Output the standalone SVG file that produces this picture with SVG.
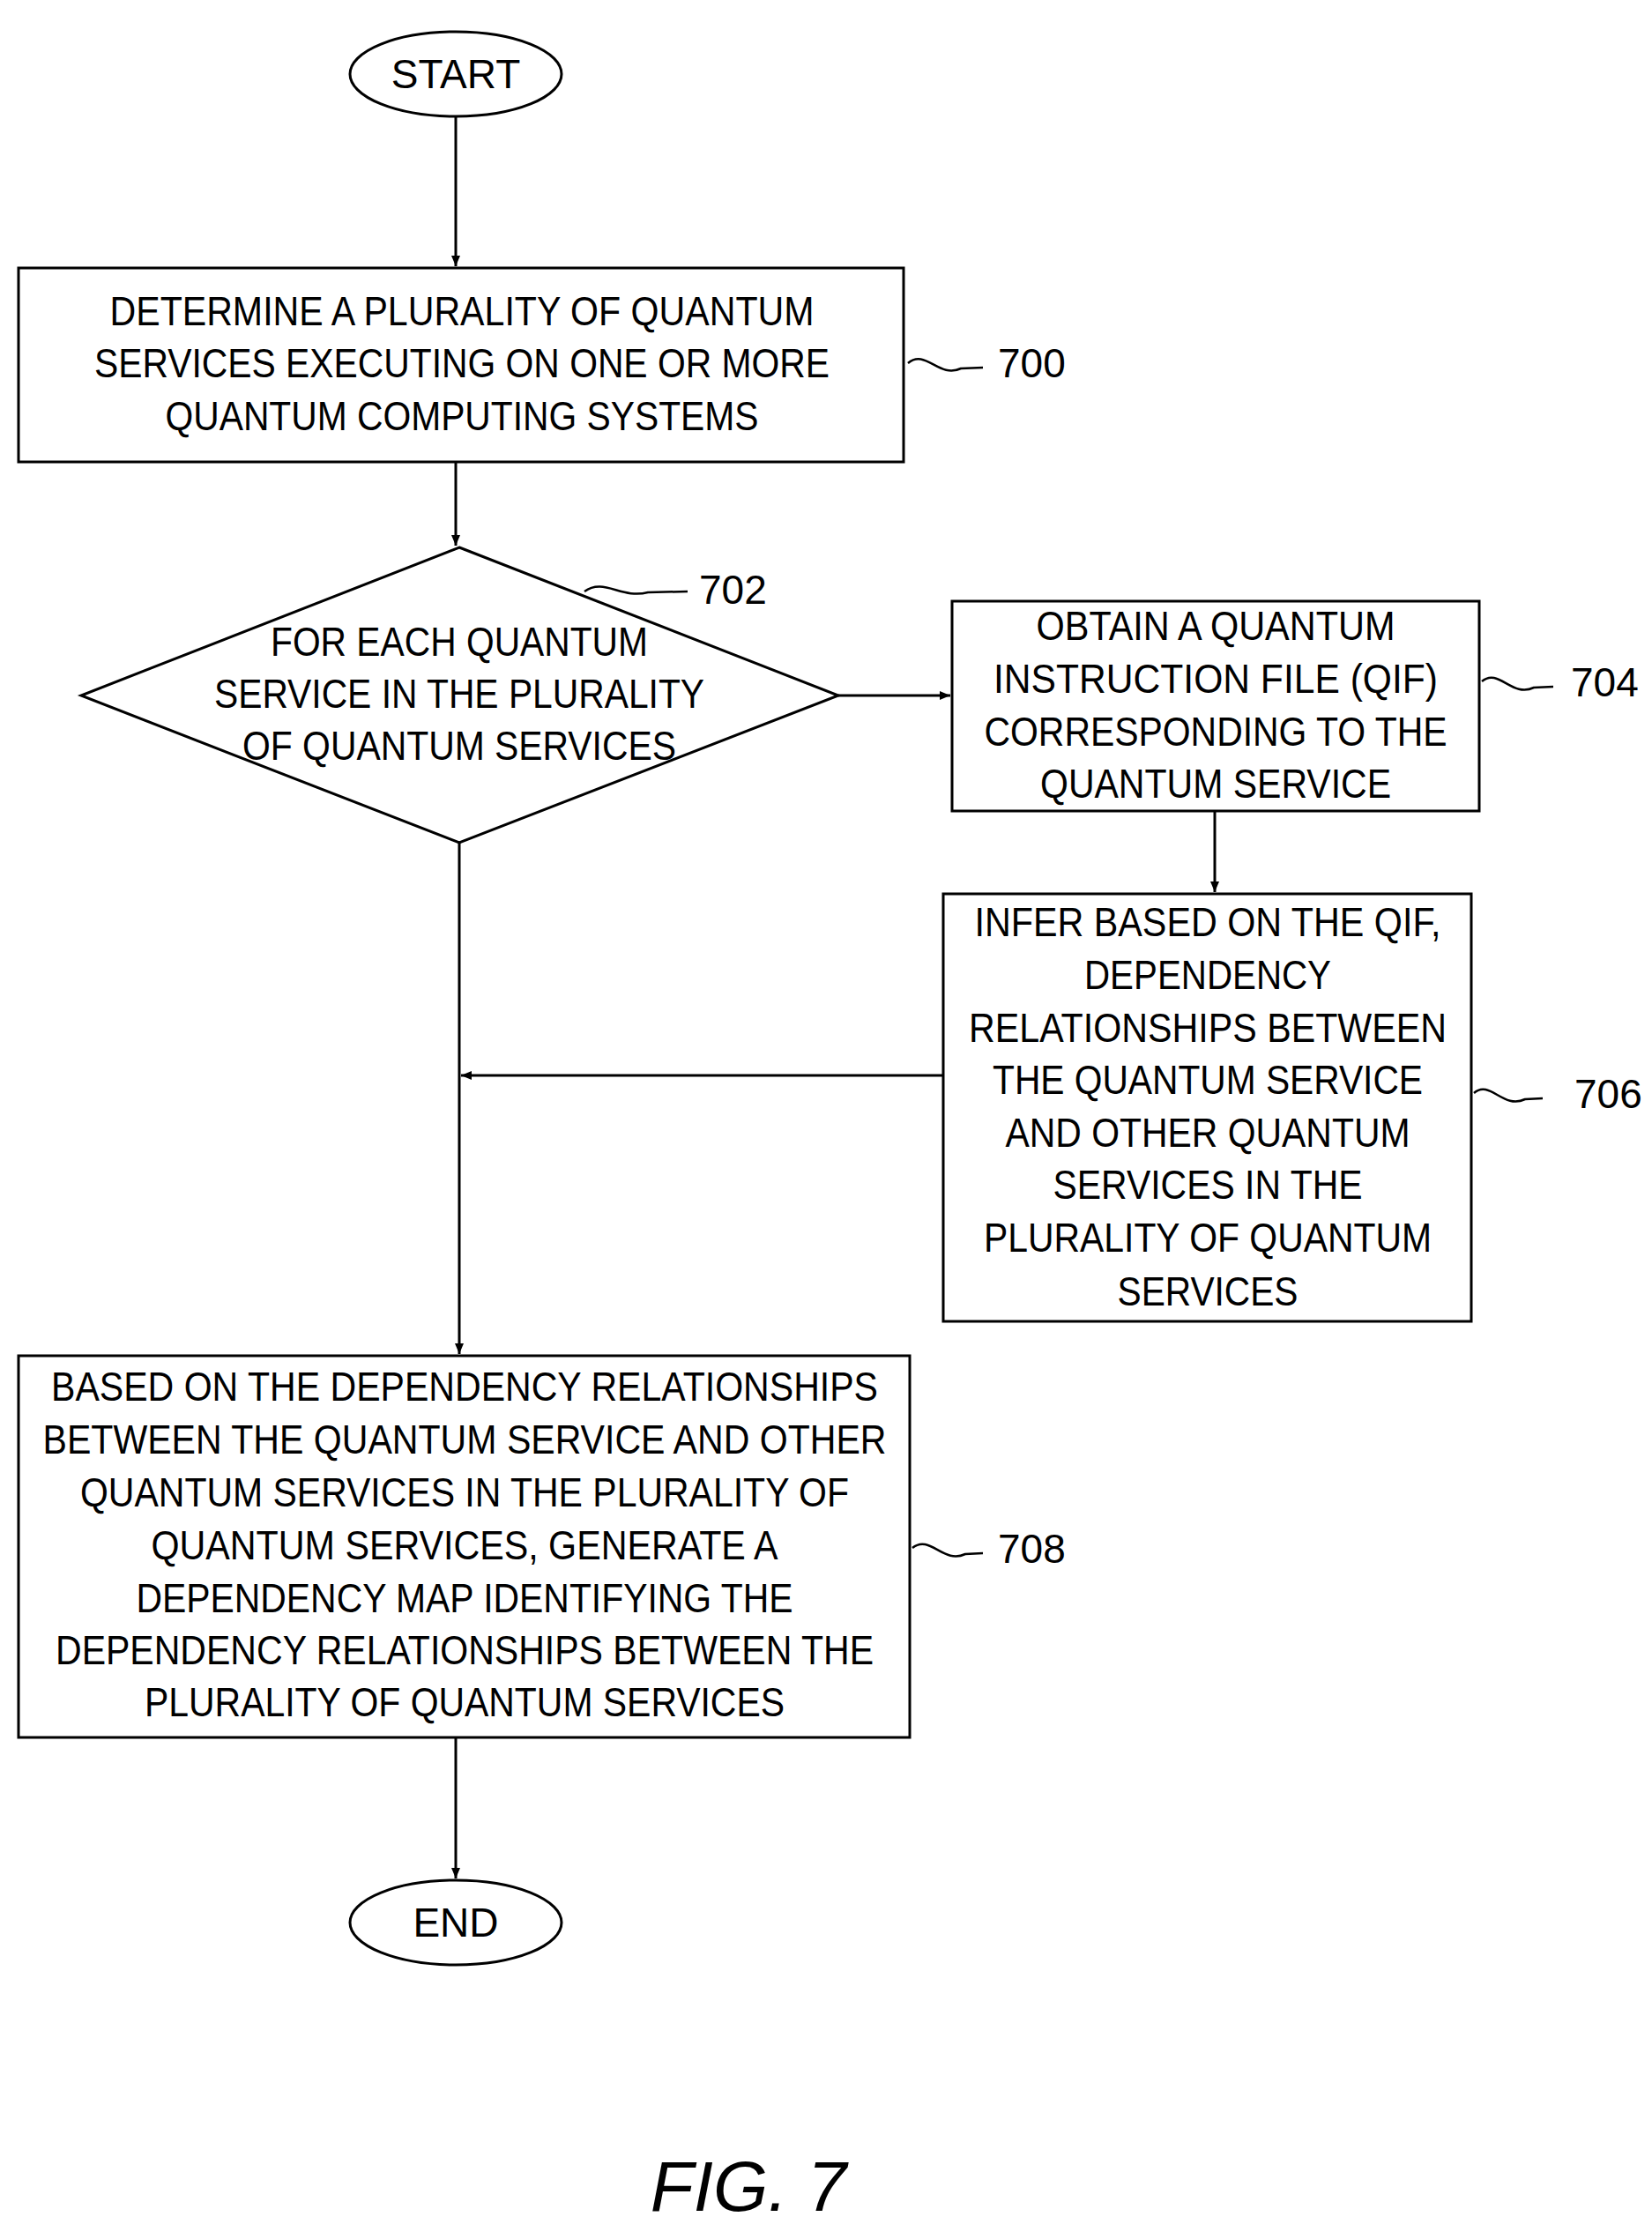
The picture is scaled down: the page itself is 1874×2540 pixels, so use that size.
<svg xmlns="http://www.w3.org/2000/svg" width="1874" height="2540" viewBox="0 0 1874 2540">
<defs>
<marker id="ah" markerWidth="12" markerHeight="10" refX="12" refY="5" orient="auto" markerUnits="userSpaceOnUse"><path d="M0,0 L24,5 L0,10 Z" transform="scale(0.5,1)"/></marker>
<style>
.s{fill:#fff;stroke:#000;stroke-width:3}
.t{font-family:"Liberation Sans",Arial,sans-serif;font-size:46px;text-anchor:middle;fill:#000}
.l{font-family:"Liberation Sans",Arial,sans-serif;font-size:46px;fill:#000}
.c{fill:none;stroke:#000;stroke-width:3}
.q{fill:none;stroke:#000;stroke-width:2.5}
</style>
</defs>
<rect width="1874" height="2540" fill="#fff"/>
<g id="connectors">
<line class="c" x1="517" y1="133" x2="517" y2="302" marker-end="url(#ah)"/>
<line class="c" x1="517" y1="524" x2="517" y2="619" marker-end="url(#ah)"/>
<line class="c" x1="951" y1="789" x2="1078" y2="789" marker-end="url(#ah)"/>
<line class="c" x1="1378" y1="920" x2="1378" y2="1012" marker-end="url(#ah)"/>
<line class="c" x1="1070" y1="1220" x2="523" y2="1220" marker-end="url(#ah)"/>
<line class="c" x1="521" y1="956" x2="521" y2="1536" marker-end="url(#ah)"/>
<line class="c" x1="517" y1="1971" x2="517" y2="2131" marker-end="url(#ah)"/>
</g>
<g id="start"><ellipse class="s" cx="517" cy="84" rx="120" ry="48"/><text class="t" x="517" y="100">START</text></g>
<g id="n700"><rect class="s" x="21" y="304" width="1004" height="220"/>
<text class="t" x="524" y="369" textLength="799" lengthAdjust="spacingAndGlyphs">DETERMINE A PLURALITY OF QUANTUM</text>
<text class="t" x="524" y="428" textLength="834" lengthAdjust="spacingAndGlyphs">SERVICES EXECUTING ON ONE OR MORE</text>
<text class="t" x="524" y="488" textLength="673" lengthAdjust="spacingAndGlyphs">QUANTUM COMPUTING SYSTEMS</text>
<path class="q" d="M1030,412 C1050,395 1065,430 1090,418 L1115,417"/><text class="l" x="1132" y="428">700</text></g>
<g id="n702"><polygon class="s" points="521,621 951,789 521,956 92,789"/>
<text class="t" x="521" y="744" textLength="428" lengthAdjust="spacingAndGlyphs">FOR EACH QUANTUM</text>
<text class="t" x="521" y="803" textLength="556" lengthAdjust="spacingAndGlyphs">SERVICE IN THE PLURALITY</text>
<text class="t" x="521" y="862" textLength="492" lengthAdjust="spacingAndGlyphs">OF QUANTUM SERVICES</text>
<path class="q" d="M663,671 C685,655 705,680 735,672 L780,671"/><text class="l" x="793" y="685">702</text></g>
<g id="n704"><rect class="s" x="1080" y="682" width="598" height="238"/>
<text class="t" x="1379" y="726" textLength="407" lengthAdjust="spacingAndGlyphs">OBTAIN A QUANTUM</text>
<text class="t" x="1379" y="786" textLength="504" lengthAdjust="spacingAndGlyphs">INSTRUCTION FILE (QIF)</text>
<text class="t" x="1379" y="846" textLength="525" lengthAdjust="spacingAndGlyphs">CORRESPONDING TO THE</text>
<text class="t" x="1379" y="905" textLength="398" lengthAdjust="spacingAndGlyphs">QUANTUM SERVICE</text>
<path class="q" d="M1681,773 C1700,757 1715,792 1740,780 L1762,779"/><text class="l" x="1782" y="790">704</text></g>
<g id="n706"><rect class="s" x="1070" y="1014" width="599" height="485"/>
<text class="t" x="1370" y="1062" textLength="529" lengthAdjust="spacingAndGlyphs">INFER BASED ON THE QIF,</text>
<text class="t" x="1370" y="1122" textLength="280" lengthAdjust="spacingAndGlyphs">DEPENDENCY</text>
<text class="t" x="1370" y="1182" textLength="542" lengthAdjust="spacingAndGlyphs">RELATIONSHIPS BETWEEN</text>
<text class="t" x="1370" y="1241" textLength="488" lengthAdjust="spacingAndGlyphs">THE QUANTUM SERVICE</text>
<text class="t" x="1370" y="1301" textLength="459" lengthAdjust="spacingAndGlyphs">AND OTHER QUANTUM</text>
<text class="t" x="1370" y="1360" textLength="351" lengthAdjust="spacingAndGlyphs">SERVICES IN THE</text>
<text class="t" x="1370" y="1420" textLength="508" lengthAdjust="spacingAndGlyphs">PLURALITY OF QUANTUM</text>
<text class="t" x="1370" y="1481" textLength="205" lengthAdjust="spacingAndGlyphs">SERVICES</text>
<path class="q" d="M1672,1240 C1690,1224 1705,1259 1730,1247 L1750,1246"/><text class="l" x="1786" y="1257">706</text></g>
<g id="n708"><rect class="s" x="21" y="1538" width="1011" height="433"/>
<text class="t" x="527" y="1589" textLength="938" lengthAdjust="spacingAndGlyphs">BASED ON THE DEPENDENCY RELATIONSHIPS</text>
<text class="t" x="527" y="1649" textLength="957" lengthAdjust="spacingAndGlyphs">BETWEEN THE QUANTUM SERVICE AND OTHER</text>
<text class="t" x="527" y="1709" textLength="872" lengthAdjust="spacingAndGlyphs">QUANTUM SERVICES IN THE PLURALITY OF</text>
<text class="t" x="527" y="1769" textLength="711" lengthAdjust="spacingAndGlyphs">QUANTUM SERVICES, GENERATE A</text>
<text class="t" x="527" y="1829" textLength="745" lengthAdjust="spacingAndGlyphs">DEPENDENCY MAP IDENTIFYING THE</text>
<text class="t" x="527" y="1888" textLength="928" lengthAdjust="spacingAndGlyphs">DEPENDENCY RELATIONSHIPS BETWEEN THE</text>
<text class="t" x="527" y="1947" textLength="726" lengthAdjust="spacingAndGlyphs">PLURALITY OF QUANTUM SERVICES</text>
<path class="q" d="M1035,1756 C1055,1740 1070,1775 1095,1763 L1115,1762"/><text class="l" x="1132" y="1773">708</text></g>
<g id="end"><ellipse class="s" cx="517" cy="2181" rx="120" ry="48"/><text class="t" x="517" y="2197">END</text></g>
<text x="849" y="2508" font-family="Liberation Sans,Arial,sans-serif" font-size="80" font-style="italic" text-anchor="middle">FIG. 7</text>
</svg>
